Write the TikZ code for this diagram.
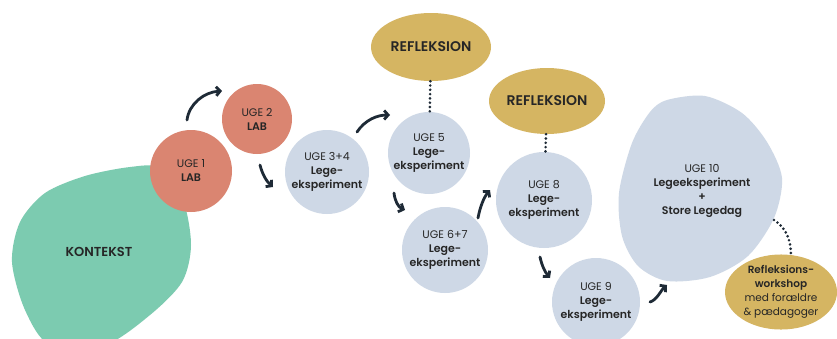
\documentclass[tikz,border=0pt]{standalone}
\usepackage{fontspec}
\setmainfont{Poppins}[BoldFont={Poppins SemiBold}]
\usetikzlibrary{positioning,shapes.geometric,arrows.meta}
\definecolor{kontekstgreen}{HTML}{7CCBB0}
\definecolor{labred}{HTML}{DA8571}
\definecolor{legeblue}{HTML}{CED8E6}
\definecolor{reflgold}{HTML}{D5B562}
\definecolor{inkdark}{HTML}{262626}
\definecolor{arrowdark}{HTML}{1E2A36}
\tikzset{
  week/.style={circle, inner sep=0pt, align=center, text=inkdark,
    font=\fontsize{11}{14}\selectfont},
  lab/.style={week, fill=labred},
  lege/.style={week, fill=legeblue},
  refl/.style={ellipse, fill=reflgold, inner sep=0pt, align=center, text=inkdark},
  flow/.style={draw=arrowdark, line width=2.8pt, line cap=round,
    -{Straight Barb[length=4pt,width=9pt]}},
  dotline/.style={draw=arrowdark, line width=2.9pt, line cap=round,
    dash pattern=on 0pt off 4.3pt},
}

\begin{document}
\begin{tikzpicture}[x=1pt,y=-1pt]
\useasboundingbox (0,0) rectangle (837,338);
\clip (0,0) rectangle (837,338);
\fill[white] (0,0) rectangle (837,338);

\fill[kontekstgreen] plot[smooth cycle] coordinates {(12,262) (20,222) (45,193)
    (85,176) (130,167) (160,168) (183,200) (191,245) (182,282) (150,315)
    (105,345) (50,345) (25,310)};
\node[text=inkdark] (kontekst) at (99,252) {\fontsize{13}{15}\selectfont\bfseries KONTEKST};

\node[lab, minimum size=82pt] (uge1) at (191,171) {UGE 1\\\textbf{LAB}};
\node[lab, minimum size=70pt] (uge2) at (257,119) {UGE 2\\\textbf{LAB}};
\node[lege, minimum size=84pt] (uge34) at (327,172) {UGE 3+4\\\textbf{Lege-}\\\textbf{eksperiment}};
\node[lege, minimum size=82pt] (uge5) at (429,153) {UGE 5\\\textbf{Lege-}\\\textbf{eksperiment}};
\node[lege, minimum size=86pt] (uge67) at (445,250) {UGE 6+7\\\textbf{Lege-}\\\textbf{eksperiment}};
\node[lege, minimum size=96pt] (uge8) at (544,200) {UGE 8\\\textbf{Lege-}\\\textbf{eksperiment}};
\node[lege, minimum size=88pt] (uge9) at (596,302) {UGE 9\\\textbf{Lege-}\\\textbf{eksperiment}};

\fill[legeblue] plot[smooth cycle] coordinates {(667,100) (705,96) (742,113)
    (767,142) (782,178) (774,218) (748,256) (710,277) (667,281) (638,266)
    (622,236) (619,193) (632,143) (650,112)};
\node[text=inkdark, align=center, font=\fontsize{11}{14}\selectfont] (uge10) at (702,191)
    {UGE 10\\\textbf{Legeeksperiment}\\\textbf{+}\\\textbf{Store Legedag}};

\node[refl, minimum width=120pt, minimum height=68pt] (refl1) at (431,47)
    {\fontsize{14}{16}\selectfont\bfseries REFLEKSION};
\node[refl, minimum width=116pt, minimum height=66pt] (refl2) at (547,101)
    {\fontsize{14}{16}\selectfont\bfseries REFLEKSION};
\node[refl, minimum width=112pt, minimum height=70pt, font=\fontsize{10.5}{14}\selectfont]
    (workshop) at (781,292)
    {\textbf{Refleksions-}\\\textbf{workshop}\\med forældre\\\& pædagoger};

\draw[dotline] (refl1) -- (uge5);
\draw[dotline] (refl2) -- (uge8);
\coordinate (u10dot) at (774,220);
\draw[dotline] (u10dot) .. controls (787,228) and (791,242) .. (workshop.75);

\coordinate (a1s) at (187,120); \coordinate (a1e) at (222,91);
\coordinate (a2s) at (260,165); \coordinate (a2e) at (273,187);
\coordinate (a3s) at (357,132); \coordinate (a3e) at (390,115);
\coordinate (a4s) at (394,193); \coordinate (a4e) at (405,210);
\coordinate (a5s) at (478,218); \coordinate (a5e) at (490,190);
\coordinate (a6s) at (540,257); \coordinate (a6e) at (550,278);
\coordinate (a7s) at (650,302); \coordinate (a7e) at (667,285);
\draw[flow] (a1s) .. controls (189,104) and (204,92) .. (a1e);
\draw[flow] (a2s) .. controls (262,173) and (266,181) .. (a2e);
\draw[flow] (a3s) .. controls (365,120) and (377,115) .. (a3e);
\draw[flow] (a4s) .. controls (395,201) and (398,207) .. (a4e);
\draw[flow] (a5s) .. controls (480,207) and (484,197) .. (a5e);
\draw[flow] (a6s) .. controls (542,266) and (545,272) .. (a6e);
\draw[flow] (a7s) .. controls (657,300) and (661,290) .. (a7e);
\end{tikzpicture}
\end{document}
